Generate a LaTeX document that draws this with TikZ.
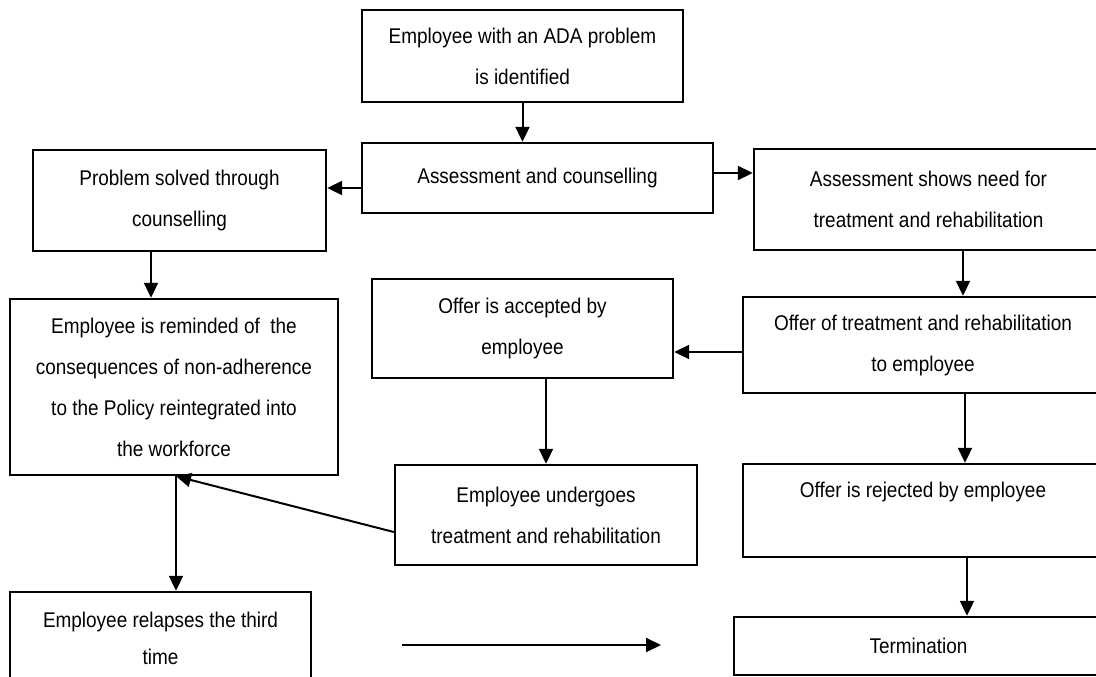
\documentclass[tikz,border=0pt]{standalone}
\usepackage{fontspec}
\setmainfont{Liberation Sans}[FakeStretch=0.89]
\usetikzlibrary{arrows.meta}

\begin{document}
\begin{tikzpicture}[x=1pt, y=-1pt, font=\fontsize{21.3}{41}\selectfont,
    blk/.style={draw, line width=2.4pt, align=center, inner sep=0pt},
    flow/.style={-{Triangle[length=15pt, width=14pt]}, line width=2pt}]
  \useasboundingbox (0,0) rectangle (1096,677);
  \clip (0,0) rectangle (1096,677);

  % boxes
  \node[blk, minimum width=321pt, minimum height=92pt] (ident) at (522.5,56) {Employee with an ADA problem\\is identified};
  \node[blk, minimum width=351pt, minimum height=70pt] (assess) at (537.5,178) {Assessment and counselling};
  \node[blk, minimum width=293pt, minimum height=101pt] (prob) at (179.5,200.5) {Problem solved through\\counselling};
  \node[blk, minimum width=349pt, minimum height=101pt] (need) at (928.5,199.5) {Assessment shows need for\\treatment and rehabilitation};
  \node[blk, minimum width=328pt, minimum height=176pt] (remind) at (174,387) {Employee is reminded of \ the\\consequences of non-adherence\\to the Policy reintegrated into\\the workforce};
  \node[blk, minimum width=301pt, minimum height=99pt] (accept) at (522.5,328.5) {Offer is accepted by\\employee};
  \node[blk, minimum width=360pt, minimum height=96pt] (offer) at (923,345) {Offer of treatment and rehabilitation\\to employee};
  \node[blk, minimum width=302pt, minimum height=100pt] (under) at (546,515) {Employee undergoes\\treatment and rehabilitation};
  \node[blk, minimum width=360pt, minimum height=93pt] (reject) at (923,510.5) {Offer is rejected by employee\\~};
  \node[blk, minimum width=301pt, minimum height=93pt] (relapse) at (160.5,638.5) {Employee relapses the third\\[-4pt]time};
  \node[blk, minimum width=369pt, minimum height=58pt] (term) at (918.5,646) {Termination};

  \coordinate (gapL) at (402,645);
  \coordinate (gapR) at (661,645);

  % connectors
  \draw[flow] (ident.south) -- (ident.south |- assess.north);
  \draw[flow] ([yshift=-10pt]assess.west) -- ([yshift=-10pt]assess.west -| prob.east);
  \draw[flow] ([yshift=5pt]assess.east) -- ([yshift=5pt]assess.east -| need.west);
  \draw[flow] ([xshift=-28.5pt]prob.south) -- ([xshift=-28.5pt]prob.south |- remind.north);
  \draw[flow] ([xshift=34.5pt]need.south) -- ([xshift=34.5pt]need.south |- offer.north);
  \draw[flow] ([yshift=-7pt]offer.west) -- ([yshift=-7pt]offer.west -| accept.east);
  \draw[flow] (under.north |- accept.south) -- (under.north);
  \draw[flow] ([yshift=-17pt]under.west) -- ([xshift=2pt]remind.south);
  \draw[flow] ([xshift=2pt]remind.south) -- ([xshift=2pt]remind.south |- relapse.north);
  \draw[flow] ([xshift=42pt]offer.south) -- ([xshift=42pt]offer.south |- reject.north);
  \draw[flow] ([xshift=44pt]reject.south) -- ([xshift=44pt]reject.south |- term.north);
  \draw[flow] (gapL) -- (gapR);
\end{tikzpicture}
\end{document}
